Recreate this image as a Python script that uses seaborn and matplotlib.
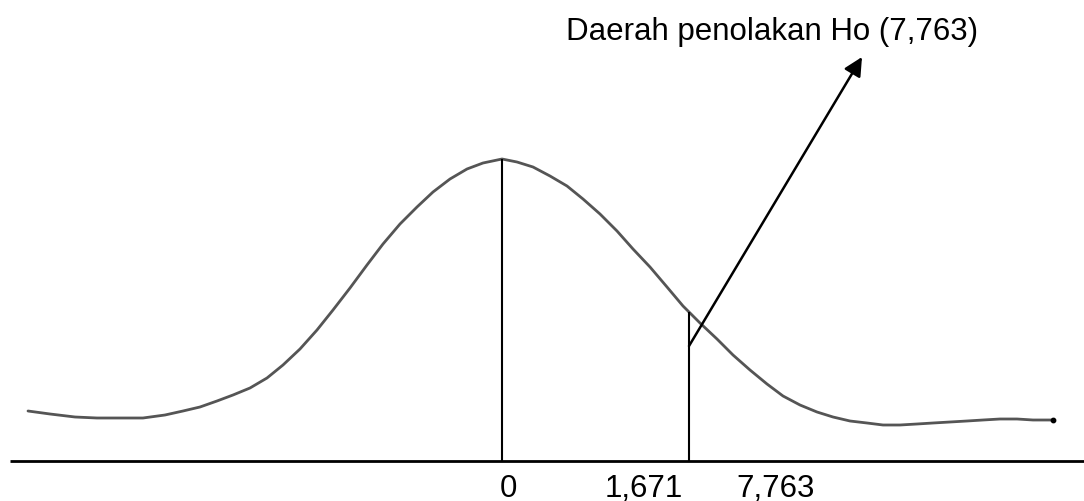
import pandas as pd
import numpy as np
import matplotlib.pyplot as plt
import seaborn as sns

sns.set_style('white')
plt.rcParams['font.family'] = ['Liberation Sans', 'DejaVu Sans']

# hand-drawn curve (x position, height above the baseline)
curve_x = [28, 50, 75, 97, 120, 143, 165, 183, 200, 217, 233, 250, 267, 283, 300, 317,
           333, 350, 367, 383, 400, 417, 433, 450, 467, 483, 502,
           517, 533, 550, 567, 583, 600, 617, 633, 650, 667, 683, 689, 700, 717,
           733, 750, 767, 783, 800, 817, 833, 850, 867, 883, 900, 917, 933, 950,
           967, 983, 1000, 1017, 1033, 1053]
curve_y = [50, 47, 44, 43, 43, 43, 46, 50, 54, 60, 66, 73, 83, 96, 112, 131,
           151, 173, 196, 217, 237, 254, 269, 282, 292, 298, 302,
           299, 294, 285, 275, 262, 247, 230, 212, 194, 174, 155, 149, 138, 122,
           106, 91, 77, 65, 56, 49, 44, 40, 38, 36, 36, 37, 38, 39,
           40, 41, 42, 42, 41, 41]

# marked positions on the axis
mark_x = [502, 689]
mark_top = [302, 149]
tick_x = [508, 644, 776]
tick_labels = ['0', '1,671', '7,763']

title_text = 'Daerah penolakan Ho (7,763)'

df = pd.DataFrame({'x': curve_x, 'y': curve_y})

fig = plt.figure(figsize=(10.84, 5.02), dpi=100)
ax = fig.add_axes([0, 0, 1, 1])

# baseline
ax.plot([10, 1084], [0, 0], color='black', lw=2, solid_capstyle='butt')

# bell curve
sns.lineplot(data=df, x='x', y='y', sort=False, color='#555555', lw=2, ax=ax)
ax.scatter([curve_x[-1]], [curve_y[-1]], s=10, color='black', zorder=3)

# vertical marks
ax.vlines(mark_x, 0, mark_top, color='black', lw=1.5)

# arrow pointing to the annotation
ax.annotate('', xy=(862, 404), xytext=(689, 115),
            arrowprops=dict(arrowstyle='-|>', color='black', lw=1.8,
                            mutation_scale=28, shrinkA=0, shrinkB=0))

ax.text(566, 422, title_text, fontsize=22.5, color='black', ha='left', va='baseline')

for x, lab in zip(tick_x, tick_labels):
    ax.text(x, -35, lab, fontsize=22.5, color='black', ha='center', va='baseline')

ax.set_xlim(0, 1084)
ax.set_ylim(-40, 462)
ax.axis('off')

fig.savefig('out.png', dpi=100)
